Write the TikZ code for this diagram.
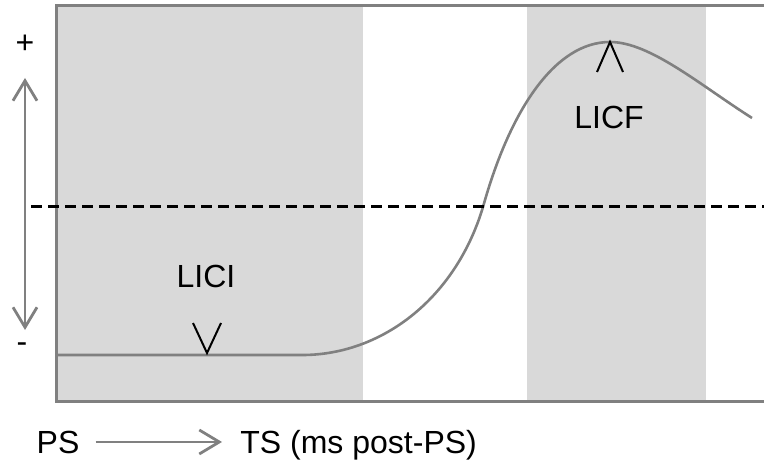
\documentclass[tikz,border=0pt]{standalone}
\usepackage{fontspec}
\setmainfont{Liberation Sans}
\usetikzlibrary{arrows.meta}
\definecolor{frame}{HTML}{808080}
\definecolor{shade}{HTML}{D9D9D9}

\begin{document}
\begin{tikzpicture}[
						x=0.5pt, y=-0.5pt,
						lbl/.style = {inner sep=0pt, font=\fontsize{16}{19}\selectfont},
						band/.style = {fill=shade},
						axis/.style = {draw=frame, line width=1.5pt},
						garrow/.style = {draw=frame, line width=1.4pt, -{Straight Barb[length=10pt,width=12pt]}},
						tickmark/.style = {draw=black, line width=1pt}
					]
					\useasboundingbox (0,0) rectangle (764,464);
					% shaded windows
					\fill[band] (57,7) rectangle (363,400);
					\fill[band] (527,7) rectangle (706,400);
					% frame, open on the right
					\draw[axis] (764,6) -- (56,6) -- (56,401) -- (764,401);
					% response curve
					\draw[draw=frame, line width=1.3pt] (57,355) -- (300,355)
						.. controls (380,356) and (455,300) .. (483,207)
						.. controls (510,110) and (555,42) .. (610,42)
						.. controls (650,42) and (700,85) .. (752,118);
					% baseline
					\draw[black, line width=1.5pt, dash pattern=on 5.5pt off 3pt] (31,207) -- (764,207);
					% labels
					\node[lbl] (plus) at (25,44) {+};
					\node[lbl] (minus) at (22,348) {-};
					\node[lbl, anchor=base] (lici) at (206,287) {LICI};
					\node[lbl, anchor=base] (licf) at (609,129) {LICF};
					\node[lbl, anchor=base] (ps) at (58,453) {PS};
					\node[lbl, anchor=base west] (ts) at (240,453) {TS (ms post-PS)};
					% markers at min and max
					\coordinate (vmin) at (207,353);
					\coordinate (vmax) at (610,42);
					\draw[tickmark] (vmin) ++(-14,-30) -- (vmin) -- ++(14,-30);
					\draw[tickmark] (vmax) ++(-13,30) -- (vmax) -- ++(13,30);
					% arrows
					\coordinate (ytop) at (25,78);
					\coordinate (ybot) at (25,330);
					\draw[garrow, {Straight Barb[length=10pt,width=12pt]}-{Straight Barb[length=10pt,width=12pt]}] (ytop) -- (ybot);
					\draw[garrow, shorten <=8pt, shorten >=9pt] (ps.east) -- (ps.east -| ts.west);
				\end{tikzpicture}
\end{document}
